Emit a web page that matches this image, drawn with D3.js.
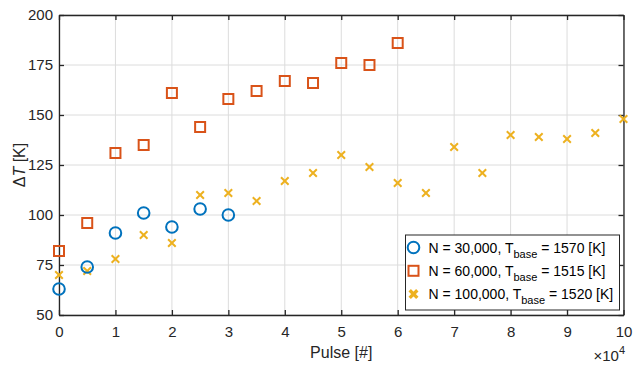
<!DOCTYPE html>
<html>
<head>
<meta charset="utf-8">
<script src="https://cdn.jsdelivr.net/npm/d3@7"></script>
<style>
  html, body { margin: 0; padding: 0; background: #fff; }
  svg { display: block; font-family: "Liberation Sans", Arial, sans-serif; }
</style>
</head>
<body>
<svg id="chart" width="633" height="365"></svg>
<script>
// Pulse counts (in units of 10^4) and temperature rise ΔT [K]
const pulse30k = [0, 0.5, 1, 1.5, 2, 2.5, 3];
const dT30k = [63, 74, 91, 101, 94, 103, 100];

const pulse60k = [0, 0.5, 1, 1.5, 2, 2.5, 3, 3.5, 4, 4.5, 5, 5.5, 6];
const dT60k = [82, 96, 131, 135, 161, 144, 158, 162, 167, 166, 176, 175, 186];

const pulse100k = [0, 0.5, 1, 1.5, 2, 2.5, 3, 3.5, 4, 4.5, 5, 5.5, 6, 6.5, 7, 7.5, 8, 8.5, 9, 9.5, 10];
const dT100k = [70, 72, 78, 90, 86, 110, 111, 107, 117, 121, 130, 124, 116, 111, 134, 121, 140, 139, 138, 141, 148];

const xTicks = [0, 1, 2, 3, 4, 5, 6, 7, 8, 9, 10];
const yTicks = [50, 75, 100, 125, 150, 175, 200];

const seriesNames = ["N = 30,000, T", "N = 60,000, T", "N = 100,000, T"];
const seriesSubs = ["base", "base", "base"];
const seriesTails = [" = 1570 [K]", " = 1515 [K]", " = 1520 [K]"];
const seriesColors = ["#0072BD", "#D95319", "#EDB120"];

const svg = d3.select("#chart");
const x = d3.scaleLinear().domain([0, 10]).range([59, 623.5]);
const y = d3.scaleLinear().domain([50, 200]).range([315, 15]);

const axisColor = "#262626";

// grid
const grid = svg.append("g");
grid.selectAll("line.vx").data(xTicks).join("line")
  .attr("x1", d => x(d)).attr("x2", d => x(d))
  .attr("y1", y(50)).attr("y2", y(200))
  .attr("stroke", "#dcdcdc").attr("stroke-width", 1);
grid.selectAll("line.hy").data(yTicks).join("line")
  .attr("x1", x(0)).attr("x2", x(10))
  .attr("y1", d => y(d)).attr("y2", d => y(d))
  .attr("stroke", "#dcdcdc").attr("stroke-width", 1);

// axes (ticks inward on all sides)
const fontSize = 15;
function styleAxis(g) {
  g.select(".domain").attr("stroke", axisColor).attr("stroke-width", 1.3);
  g.selectAll(".tick line").attr("stroke", axisColor).attr("stroke-width", 1.3);
  g.selectAll(".tick text").attr("fill", axisColor).attr("font-size", fontSize)
    .attr("font-family", "Liberation Sans, Arial, sans-serif");
}
svg.append("g").attr("transform", `translate(0,${y(50)})`)
  .call(d3.axisBottom(x).tickValues(xTicks).tickFormat(d3.format("d")).tickSizeInner(-5).tickSizeOuter(0).tickPadding(11))
  .call(styleAxis);
svg.append("g").attr("transform", `translate(0,${y(200)})`)
  .call(d3.axisTop(x).tickValues(xTicks).tickFormat("").tickSizeInner(-5).tickSizeOuter(0))
  .call(styleAxis);
svg.append("g").attr("transform", `translate(${x(0)},0)`)
  .call(d3.axisLeft(y).tickValues(yTicks).tickFormat(d3.format("d")).tickSizeInner(-5).tickSizeOuter(0).tickPadding(6))
  .call(styleAxis);
svg.append("g").attr("transform", `translate(${x(10)},0)`)
  .call(d3.axisRight(y).tickValues(yTicks).tickFormat("").tickSizeInner(-5).tickSizeOuter(0))
  .call(styleAxis);

// axis labels
svg.append("text").attr("x", (x(0) + x(10)) / 2).attr("y", 358)
  .attr("text-anchor", "middle").attr("font-size", 16).attr("fill", axisColor)
  .text("Pulse [#]");

const yl = svg.append("text").attr("transform", `translate(25,${(y(50) + y(200)) / 2}) rotate(-90)`)
  .attr("text-anchor", "middle").attr("font-size", 16).attr("fill", axisColor);
yl.append("tspan").text("Δ");
yl.append("tspan").attr("font-style", "italic").text("T");
yl.append("tspan").text(" [K]");

const ex = svg.append("text").attr("x", 625).attr("y", 361).attr("text-anchor", "end")
  .attr("font-size", 15).attr("fill", axisColor);
ex.append("tspan").text("×10");
ex.append("tspan").attr("dy", -7).attr("font-size", 11).text("4");

// marker shapes
function drawCircle(g, cx, cy, color) {
  g.append("circle").attr("cx", cx).attr("cy", cy).attr("r", 5.8)
    .attr("fill", "none").attr("stroke", color).attr("stroke-width", 2);
}
function drawSquare(g, cx, cy, color) {
  g.append("rect").attr("x", cx - 5).attr("y", cy - 5).attr("width", 10).attr("height", 10)
    .attr("fill", "none").attr("stroke", color).attr("stroke-width", 2);
}
function drawCross(g, cx, cy, color, s, w) {
  g.append("path").attr("d", `M${cx - s},${cy - s}L${cx + s},${cy + s}M${cx - s},${cy + s}L${cx + s},${cy - s}`)
    .attr("stroke", color).attr("stroke-width", w).attr("fill", "none");
}

const marks = svg.append("g");
marks.selectAll("g.s100").data(pulse100k.map((p, i) => [p, dT100k[i]])).join("g")
  .each(function (d) { drawCross(d3.select(this), x(d[0]), y(d[1]), seriesColors[2], 3.8, 2); });
marks.selectAll("g.s60").data(pulse60k.map((p, i) => [p, dT60k[i]])).join("g")
  .each(function (d) { drawSquare(d3.select(this), x(d[0]), y(d[1]), seriesColors[1]); });
marks.selectAll("g.s30").data(pulse30k.map((p, i) => [p, dT30k[i]])).join("g")
  .each(function (d) { drawCircle(d3.select(this), x(d[0]), y(d[1]), seriesColors[0]); });

// legend
const lg = svg.append("g");
lg.append("rect").attr("x", 405.5).attr("y", 235).attr("width", 214).attr("height", 75)
  .attr("fill", "#fff").attr("stroke", axisColor).attr("stroke-width", 1);
seriesNames.forEach((name, i) => {
  const cy = 247.5 + i * 23.3;
  const g = lg.append("g");
  if (i === 0) drawCircle(g, 413.5, cy, seriesColors[0]);
  if (i === 1) drawSquare(g, 413.5, cy, seriesColors[1]);
  if (i === 2) drawCross(g, 413.5, cy, seriesColors[2], 3.8, 3.4);
  const t = lg.append("text").attr("x", 428.5).attr("y", cy + 5)
    .attr("font-size", 14).attr("fill", "#000");
  t.append("tspan").text(name);
  t.append("tspan").attr("dy", 5).attr("font-size", 11).text(seriesSubs[i]);
  t.append("tspan").attr("dy", -5).text(seriesTails[i]);
});
</script>
</body>
</html>
